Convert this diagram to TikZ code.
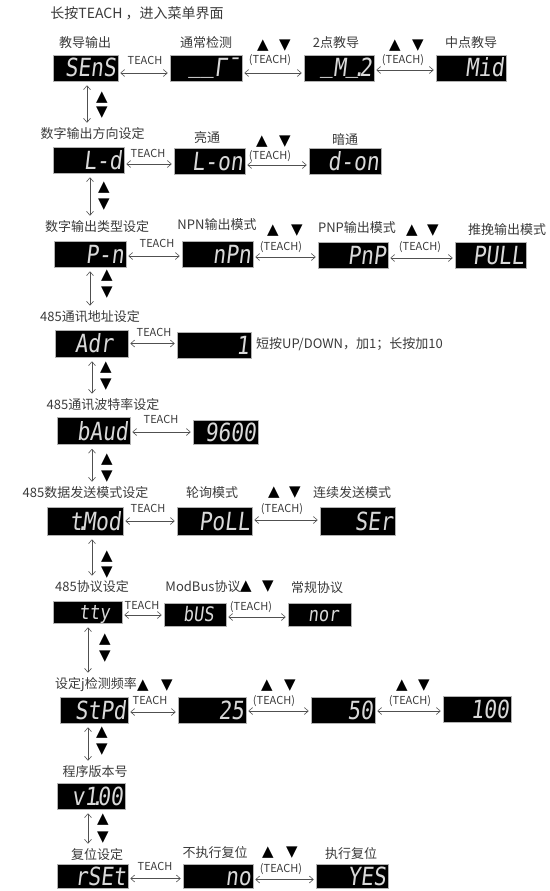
\documentclass[tikz,border=0pt]{standalone}
\usepackage{fontspec}
\setmainfont{Noto Sans CJK SC}
\newfontfamily\segf{DejaVu Sans Mono}[FakeSlant=0.12,FakeStretch=0.85]
\newfontfamily\symf{DejaVu Sans}
\usetikzlibrary{arrows.meta,calc}
\definecolor{txt}{HTML}{3A3A3A}
\definecolor{ln}{HTML}{505050}
\newcommand\lowseg{\raisebox{5pt}{\_}}
\newcommand\dblank{\phantom{0}}
\newcommand\sdot{\kern-0.25em.\kern-0.25em}
\newcommand\hconn[3]{\draw[dar] ($(#1.east)+(2,#3)$) -- ($(#2.west |- #1.east)+(-2,#3)$);}
\newcommand\vconn[3]{\draw[dar] ($(#1.south)+(#3,4)$) -- ($(#1.south |- #2.north)+(#3,-5)$);}
\begin{document}
\begin{tikzpicture}[x=1pt,y=-1pt,
 lbl/.style={font=\fontsize{13}{13}\selectfont, text=txt, inner sep=0pt},
 tlbl/.style={font=\fontsize{11}{11}\selectfont, text=txt, inner sep=0pt},
 tri/.style={font=\symf\fontsize{15}{15}\selectfont, text=black, inner sep=0pt},
 disp/.style={fill=black, draw=gray!60, line width=0.5pt, text width=#1pt,
   minimum height=26pt, inner xsep=2pt, inner ysep=0pt, align=right,
   text=white!85!black, font=\segf\fontsize{25}{25}\selectfont,
   text height=18pt, text depth=0pt},
 dh/.style={minimum height=#1pt},
 small/.style={font=\segf\fontsize{20}{20}\selectfont, text height=14.5pt},
 dar/.style={{Straight Barb[length=4pt,width=7pt]}-{Straight Barb[length=4pt,width=7pt]}, draw=ln, line width=0.6pt}
]
\useasboundingbox (0,0) rectangle (549,891);

% title
\node[lbl, font=\fontsize{14}{14}\selectfont] (title) at (137,13) {长按TEACH ，进入菜单界面};

% row 1
\node[lbl] (l1a) at (85,43) {教导输出};
\node[lbl] (l1b) at (206,43) {通常检测};
\node[lbl] (l1c) at (336,43) {2点教导};
\node[lbl] (l1d) at (471,43) {中点教导};
\node[disp=61] (sens) at (85.5,68) {SEnS};
\node[disp=68] (tong) at (206,68) {\lowseg\lowseg Γ¯};
\node[disp=66] (n2) at (339,68) {\lowseg M\lowseg\sdot 2};
\node[disp=66] (mid) at (471,68) {Mid};
\node[tlbl] (t1a) at (145,60) {TEACH};
\node[tri] (u1a) at (263,46) {▲};
\node[tri] (d1a) at (285,46) {▼};
\node[tlbl] (t1b) at (270,60) {(TEACH)};
\node[tri] (u1b) at (395,46) {▲};
\node[tri] (d1b) at (418,46) {▼};
\node[tlbl] (t1c) at (403,60) {(TEACH)};
\hconn{sens}{tong}{5}
\hconn{tong}{n2}{5}
\hconn{n2}{mid}{2}

% row 2
\node[lbl] (l2a) at (92.5,134) {数字输出方向设定};
\node[lbl] (l2b) at (207,138) {亮通};
\node[lbl] (l2c) at (345,140) {暗通};
\node[disp=67] (ld) at (88.5,160) {L-d};
\node[disp=67] (lon) at (209.5,161) {L-on};
\node[disp=68] (don) at (345,161.5) {d-on};
\node[tlbl] (t2a) at (148,153) {TEACH};
\node[tri] (u2a) at (262,142) {▲};
\node[tri] (d2a) at (285,142) {▼};
\node[tlbl] (t2b) at (270,156) {(TEACH)};
\hconn{ld}{lon}{4}
\hconn{lon}{don}{4}

% row 3
\node[lbl] (l3a) at (97,227) {数字输出类型设定};
\node[lbl] (l3b) at (217,225) {NPN输出模式};
\node[lbl] (l3c) at (357,228) {PNP输出模式};
\node[lbl] (l3d) at (507,230) {推挽输出模式};
\node[disp=68] (pn) at (90,254) {P-n};
\node[disp=67] (npn) at (217.5,254) {nPn};
\node[disp=66] (pnp) at (353,255) {PnP};
\node[disp=67] (pull) at (490.5,255.5) {PULL};
\node[tlbl] (t3a) at (157,243) {TEACH};
\node[tri] (u3a) at (273,231) {▲};
\node[tri] (d3a) at (297,231) {▼};
\node[tlbl] (t3b) at (281,247) {(TEACH)};
\node[tri] (u3b) at (412,231) {▲};
\node[tri] (d3b) at (433,231) {▼};
\node[tlbl] (t3c) at (420,247) {(TEACH)};
\hconn{pn}{npn}{2}
\hconn{npn}{pnp}{3}
\hconn{pnp}{pull}{3}

% row 4
\node[lbl] (l4a) at (90,317) {485通讯地址设定};
\node[disp=69, dh=27] (adr) at (91.5,343.5) {Adr\dblank};
\node[disp=70] (one) at (214,345) {1};
\node[tlbl] (t4a) at (154,332) {TEACH};
\node[lbl, anchor=west] (note) at (256,344) {短按UP/DOWN，加1；长按加10};
\hconn{adr}{one}{0}

% row 5
\node[lbl] (l5a) at (103,405) {485通讯波特率设定};
\node[disp=69, dh=27] (baud) at (93.5,431) {bAud};
\node[disp=61, dh=24] (b96) at (225.5,432) {9600};
\node[tlbl] (t5a) at (161,419) {TEACH};
\hconn{baud}{b96}{1}

% row 6
\node[lbl] (l6a) at (85.5,493) {485数据发送模式设定};
\node[lbl] (l6b) at (212,493) {轮询模式};
\node[lbl] (l6c) at (352,493) {连续发送模式};
\node[disp=72, dh=28] (tmod) at (85,521) {t\sdot Mod};
\node[disp=71, dh=28] (poll) at (214.5,521) {PoLL};
\node[disp=71, dh=28] (ser) at (357.5,521.5) {SEr};
\node[tlbl] (t6a) at (148,508) {TEACH};
\node[tri] (u6a) at (274,493) {▲};
\node[tri] (d6a) at (295,493) {▼};
\node[tlbl] (t6b) at (282,509) {(TEACH)};
\hconn{tmod}{poll}{0}
\hconn{poll}{ser}{-1}

% row 7
\node[lbl] (l7a) at (92,587) {485协议设定};
\node[lbl] (l7b) at (203,587) {ModBus协议};
\node[lbl] (l7c) at (317,588) {常规协议};
\node[disp=65, dh=22, small] (tty) at (87.5,612) {tty\dblank};
\node[disp=58, dh=23, small] (bus) at (195,614.5) {bUS\dblank};
\node[disp=59, dh=23, small] (nor) at (319.5,614.5) {nor\dblank};
\node[tlbl] (t7a) at (142,605) {TEACH};
\node[tri] (u7a) at (246,587) {▲};
\node[tri] (d7a) at (268,587) {▼};
\node[tlbl] (t7b) at (251,607) {(TEACH)};
\hconn{tty}{bus}{3}
\hconn{bus}{nor}{2.5}

% row 8
\node[lbl] (l8a) at (96,685) {设定j检测频率};
\node[tri] (u8a) at (143,686) {▲};
\node[tri] (d8a) at (167,686) {▼};
\node[tlbl] (t8a) at (150,700) {TEACH};
\node[disp=64] (stpd) at (94,710) {StPd};
\node[disp=64] (s25) at (212,710) {25};
\node[disp=60] (s50) at (343,710) {50};
\node[disp=64] (s100) at (477,709.5) {100};
\node[tri] (u8b) at (267,686) {▲};
\node[tri] (d8b) at (290,686) {▼};
\node[tlbl] (t8b) at (274,701) {(TEACH)};
\node[tri] (u8c) at (402,686) {▲};
\node[tri] (d8c) at (424,686) {▼};
\node[tlbl] (t8c) at (410,701) {(TEACH)};
\hconn{stpd}{s25}{2}
\hconn{s25}{s50}{1}
\hconn{s50}{s100}{1}

% row 9
\node[lbl] (l9a) at (95,772) {程序版本号};
\node[disp=64] (ver) at (91,796) {v1\sdot 00};

% row 10
\node[lbl] (l10a) at (97,855) {复位设定};
\node[lbl] (l10b) at (215,853) {不执行复位};
\node[lbl] (l10c) at (351,854) {执行复位};
\node[disp=67, dh=24] (rset) at (92.5,876.5) {rSEt};
\node[disp=66, dh=24] (no) at (218,876.5) {no};
\node[disp=68, dh=24] (yes) at (352,876.5) {YES};
\node[tlbl] (t10a) at (155,866) {TEACH};
\node[tri] (u10a) at (268,853) {▲};
\node[tri] (d10a) at (292,853) {▼};
\node[tlbl] (t10b) at (281,869) {(TEACH)};
\hconn{rset}{no}{2}
\hconn{no}{yes}{3}

% vertical connectors
\vconn{sens}{l2a}{1.5}
\node[tri] (vu1) at (102,98) {▲};
\node[tri] (vd1) at (102,113) {▼};
\vconn{ld}{l3a}{1.5}
\node[tri] (vu2) at (104,188) {▲};
\node[tri] (vd2) at (104,205) {▼};
\vconn{pn}{l4a}{0}
\node[tri] (vu3) at (107,276) {▲};
\node[tri] (vd3) at (107,293) {▼};
\vconn{adr}{l5a}{0.5}
\node[tri] (vu4) at (106,368) {▲};
\node[tri] (vd4) at (106,385) {▼};
\vconn{baud}{l6a}{-1.5}
\node[tri] (vu5) at (107,460) {▲};
\node[tri] (vd5) at (107,477) {▼};
\vconn{tmod}{l7a}{7}
\node[tri] (vu6) at (107,557) {▲};
\node[tri] (vd6) at (107,573) {▼};
\vconn{tty}{l8a}{0.5}
\node[tri] (vu7) at (105,640) {▲};
\node[tri] (vd7) at (105,657) {▼};
\vconn{stpd}{l9a}{-6}
\node[tri] (vu8) at (102,733) {▲};
\node[tri] (vd8) at (102,750) {▼};
\vconn{ver}{l10a}{-3}
\node[tri] (vu9) at (103,820) {▲};
\node[tri] (vd9) at (103,838) {▼};
\end{tikzpicture}
\end{document}
